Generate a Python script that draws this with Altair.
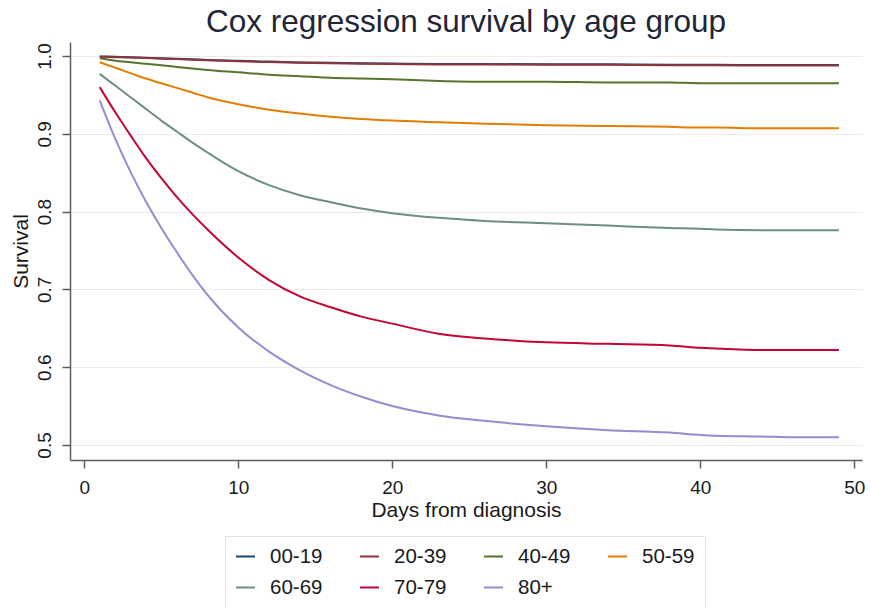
import altair as alt
import pandas as pd

# Follow-up time (days) at which the fitted survival curves are sampled
days = [1, 2, 3, 4, 5, 6, 7, 8, 10, 12, 14, 16, 18, 20, 23, 26, 30, 34, 38, 40, 41, 44, 46, 49]

groups = ["00-19", "20-39", "40-49", "50-59", "60-69", "70-79", "80+"]
colors = ["#1a476f", "#90353b", "#55752f", "#e37e00", "#6e8e84", "#c10534", "#938dd2"]

# Predicted survival per age group
surv_00_19 = [0.9995, 0.9990, 0.9985, 0.9978, 0.9970, 0.9965, 0.9958, 0.9950, 0.9938, 0.9928,
              0.9918, 0.9914, 0.9906, 0.9903, 0.9897, 0.9896, 0.9895, 0.9894, 0.9888, 0.9887,
              0.9886, 0.9885, 0.9885, 0.9885]
surv_20_39 = [0.9990, 0.9985, 0.9980, 0.9973, 0.9965, 0.9960, 0.9952, 0.9945, 0.9932, 0.9922,
              0.9912, 0.9908, 0.9900, 0.9897, 0.9891, 0.9890, 0.9889, 0.9888, 0.9882, 0.9881,
              0.9880, 0.9879, 0.9879, 0.9879]
surv_40_49 = [0.997, 0.994, 0.992, 0.990, 0.988, 0.986, 0.984, 0.982, 0.979, 0.976,
              0.974, 0.972, 0.971, 0.970, 0.968, 0.967, 0.967, 0.966, 0.966, 0.965,
              0.965, 0.965, 0.965, 0.965]
surv_50_59 = [0.992, 0.985, 0.978, 0.971, 0.965, 0.959, 0.953, 0.947, 0.938, 0.931,
              0.926, 0.922, 0.919, 0.917, 0.915, 0.913, 0.911, 0.910, 0.909, 0.908,
              0.908, 0.907, 0.907, 0.907]
surv_60_69 = [0.977, 0.962, 0.947, 0.932, 0.917, 0.903, 0.889, 0.876, 0.852, 0.834,
              0.821, 0.812, 0.804, 0.798, 0.792, 0.788, 0.785, 0.782, 0.779, 0.778,
              0.777, 0.776, 0.776, 0.776]
surv_70_79 = [0.960, 0.928, 0.898, 0.869, 0.843, 0.819, 0.797, 0.777, 0.741, 0.712,
              0.691, 0.677, 0.665, 0.656, 0.643, 0.637, 0.632, 0.630, 0.628, 0.625,
              0.624, 0.622, 0.622, 0.622]
surv_80_plus = [0.943, 0.894, 0.851, 0.813, 0.779, 0.748, 0.719, 0.693, 0.651, 0.620,
                0.596, 0.577, 0.562, 0.550, 0.538, 0.531, 0.524, 0.519, 0.516, 0.513,
                0.512, 0.511, 0.510, 0.510]

series = [surv_00_19, surv_20_39, surv_40_49, surv_50_59, surv_60_69, surv_70_79, surv_80_plus]

rows = []
for g, vals in zip(groups, series):
    for d, v in zip(days, vals):
        rows.append({"day": d, "survival": v, "group": g})
df = pd.DataFrame(rows)

FONT = "Liberation Sans"
TEXT = "#1a1a1a"
AXIS = "#5e5e5e"

chart = alt.Chart(df).mark_line(strokeWidth=2, interpolate="monotone").encode(
    x=alt.X(
        "day:Q",
        scale=alt.Scale(domain=[-0.93, 50.5], nice=False, zero=False),
        axis=alt.Axis(
            values=[0, 10, 20, 30, 40, 50],
            title="Days from diagnosis",
            grid=False,
            tickSize=8,
            labelPadding=10,
            titlePadding=2,
        ),
    ),
    y=alt.Y(
        "survival:Q",
        scale=alt.Scale(domain=[0.4807, 1.018], nice=False, zero=False),
        axis=alt.Axis(
            values=[0.5, 0.6, 0.7, 0.8, 0.9, 1.0],
            format=".1f",
            title="Survival",
            grid=True,
            gridColor="#ececec",
            gridWidth=1,
            tickSize=8,
            labelAngle=270,
            labelAlign="center",
            labelBaseline="bottom",
            labelPadding=8,
            titlePadding=4,
        ),
    ),
    color=alt.Color(
        "group:N",
        scale=alt.Scale(domain=groups, range=colors),
        legend=alt.Legend(
            title=None,
            orient="none",
            legendX=155,
            legendY=494,
            columns=4,
            direction="horizontal",
            symbolType="stroke",
            symbolSize=361,
            symbolStrokeWidth=2,
            labelFontSize=20.5,
            labelFont=FONT,
            labelColor=TEXT,
            labelOffset=14,
            columnPadding=33,
            rowPadding=10,
            padding=10,
            strokeColor="#e2e2e2",
            fillColor="white",
        ),
    ),
).properties(
    width=792,
    height=418,
    autosize="none",
    background="white",
    padding={"left": 70, "top": 42, "right": 9, "bottom": 148},
    title=alt.TitleParams(
        "Cox regression survival by age group",
        font=FONT,
        fontSize=31.5,
        fontWeight="normal",
        color="#1f2636",
        anchor="middle",
        offset=4,
    ),
).configure_axis(
    domainColor=AXIS,
    domainWidth=1.5,
    tickColor=AXIS,
    tickWidth=1.5,
    labelFont=FONT,
    labelFontSize=19,
    labelColor=TEXT,
    titleFont=FONT,
    titleFontSize=21,
    titleFontWeight="normal",
    titleColor=TEXT,
).configure_view(
    stroke=None
)

chart.save("out.html", embed_options={"renderer": "svg", "actions": False})
